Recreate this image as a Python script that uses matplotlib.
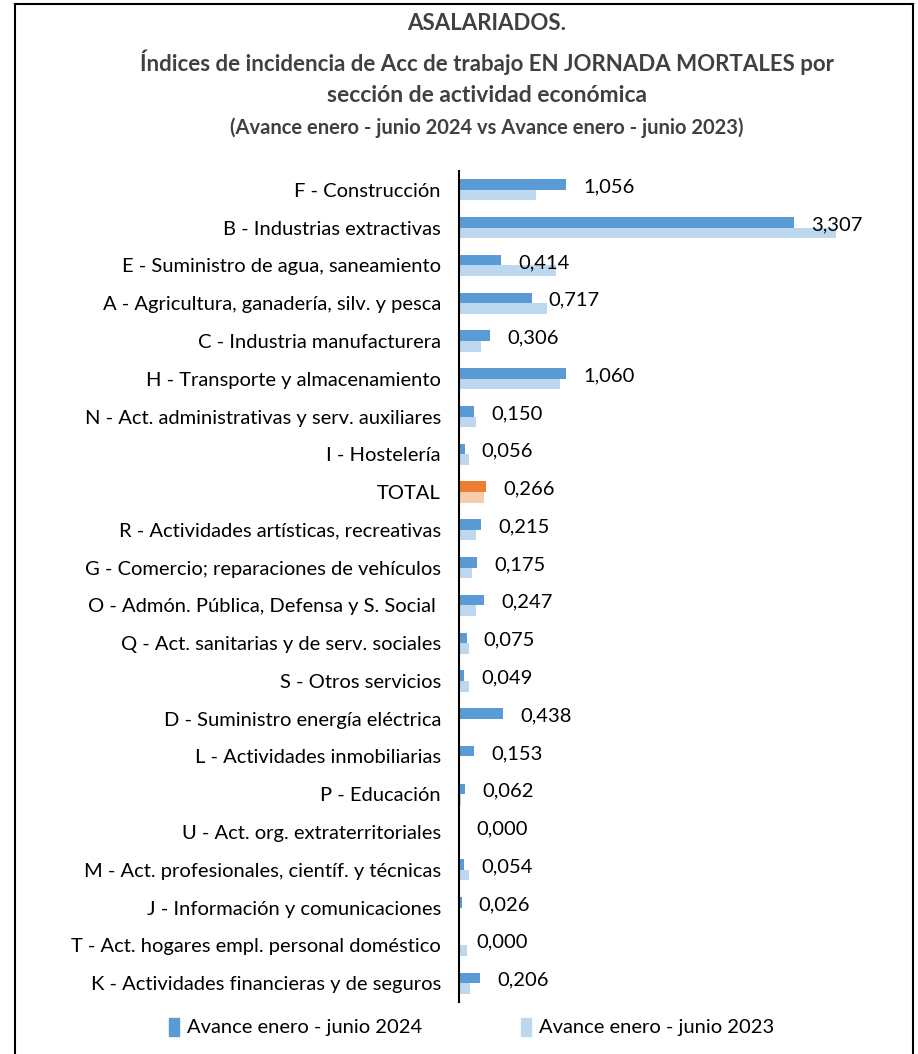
import matplotlib
matplotlib.use("Agg")
import matplotlib.pyplot as plt
from matplotlib.patches import Patch
from matplotlib.lines import Line2D
import numpy as np

# ──────────────────────────────────────────────────────────────
#  Data
# ──────────────────────────────────────────────────────────────
CATEGORIES = [
    "F - Construcción",
    "B - Industrias extractivas",
    "E - Suministro de agua, saneamiento",
    "A - Agricultura, ganadería, silv. y pesca",
    "C - Industria manufacturera",
    "H - Transporte y almacenamiento",
    "N - Act. administrativas y serv. auxiliares",
    "I - Hostelería",
    "TOTAL",
    "R - Actividades artísticas, recreativas",
    "G - Comercio; reparaciones de vehículos",
    "O - Admón. Pública, Defensa y S. Social ",
    "Q - Act. sanitarias y de serv. sociales",
    "S - Otros servicios",
    "D - Suministro energía eléctrica",
    "L - Actividades inmobiliarias",
    "P - Educación",
    "U - Act. org. extraterritoriales",
    "M - Act. profesionales, científ. y técnicas",
    "J - Información y comunicaciones",
    "T - Act. hogares empl. personal doméstico",
    "K - Actividades financieras y de seguros",
]
VALUES_2024 = [1.056, 3.307, 0.414, 0.717, 0.306, 1.060, 0.150, 0.056, 0.266,
               0.215, 0.175, 0.247, 0.075, 0.049, 0.438, 0.153, 0.062, 0.000,
               0.054, 0.026, 0.000, 0.206]
VALUES_2023 = [0.764, 3.726, 0.961, 0.872, 0.217, 0.994, 0.172, 0.099, 0.244,
               0.172, 0.128, 0.172, 0.099, 0.099, 0.000, 0.000, 0.020, 0.000,
               0.099, 0.000, 0.079, 0.112]
SERIES_NAMES = ["Avance enero - junio 2024", "Avance enero - junio 2023"]

TITLE_LINES = [
    "ASALARIADOS.",
    "Índices de incidencia de Acc de trabajo EN JORNADA MORTALES por",
    "sección de actividad económica",
]
SUBTITLE = "(Avance enero - junio 2024 vs Avance enero - junio 2023)"

# ──────────────────────────────────────────────────────────────
#  Style
# ──────────────────────────────────────────────────────────────
DARK_BLUE = "#5B9BD5"
LIGHT_BLUE = "#BDD7EE"
DARK_ORANGE = "#ED7D31"
LIGHT_ORANGE = "#F8CBAD"
TITLE_COLOR = "#404040"
FONT = ["Lato", "DejaVu Sans"]

plt.rcParams["font.family"] = FONT

W, H = 918, 1054
fig = plt.figure(figsize=(W / 100, H / 100), dpi=100)

# plot area in pixels: axis at x=459, rows from y~171 to y~1002
ax = fig.add_axes([459 / W, 1 - 1002 / H, 425 / W, (1002 - 171) / H])

n = len(CATEGORIES)
y = np.arange(n)
bar_h = 0.28
col_24 = [DARK_ORANGE if c == "TOTAL" else DARK_BLUE for c in CATEGORIES]
col_23 = [LIGHT_ORANGE if c == "TOTAL" else LIGHT_BLUE for c in CATEGORIES]

ax.barh(y - bar_h / 2, VALUES_2024, height=bar_h, color=col_24)
ax.barh(y + bar_h / 2, VALUES_2023, height=bar_h, color=col_23)

for i, v in enumerate(VALUES_2024):
    ax.text(v + 0.17, i - 0.08, f"{v:.3f}".replace(".", ","),
            va="center", ha="left", fontsize=14.5, color="black")

ax.set_xlim(0, 4.2)
ax.set_ylim(n - 0.5, -0.5)
ax.set_yticks(y)
ax.set_yticklabels(CATEGORIES, fontsize=14.5)
ax.tick_params(axis="y", length=0, pad=13)
ax.set_xticks([])
for side in ["top", "right", "bottom"]:
    ax.spines[side].set_visible(False)
ax.spines["left"].set_linewidth(1.5)

# titles
tx = 487 / W
fig.text(tx, 1 - 23 / H, TITLE_LINES[0], ha="center", va="center",
         fontsize=16, fontweight="bold", color=TITLE_COLOR)
fig.text(tx, 1 - 62 / H, TITLE_LINES[1], ha="center", va="center",
         fontsize=16, fontweight="bold", color=TITLE_COLOR)
fig.text(tx, 1 - 96 / H, TITLE_LINES[2], ha="center", va="center",
         fontsize=16.5, fontweight="bold", color=TITLE_COLOR)
fig.text(tx, 1 - 128 / H, SUBTITLE, ha="center", va="center",
         fontsize=14.5, fontweight="bold", color=TITLE_COLOR)

# legend
handles = [Patch(color=DARK_BLUE), Patch(color=LIGHT_BLUE)]
fig.legend(handles, SERIES_NAMES, loc="center", bbox_to_anchor=(472 / W, 1 - 1027 / H),
           ncol=2, frameon=False, fontsize=14.5, handlelength=0.5, handleheight=1.0,
           handletextpad=0.4, columnspacing=4.9)

# outer frame (open at the bottom)
frame_kw = dict(color="black", linewidth=1.5, transform=fig.transFigure)
fig.add_artist(Line2D([15 / W, 913 / W], [1 - 4 / H, 1 - 4 / H], **frame_kw))
fig.add_artist(Line2D([15 / W, 15 / W], [1 - 4 / H, 0], **frame_kw))
fig.add_artist(Line2D([913 / W, 913 / W], [1 - 4 / H, 0], **frame_kw))

fig.savefig("out.png", dpi=100)
